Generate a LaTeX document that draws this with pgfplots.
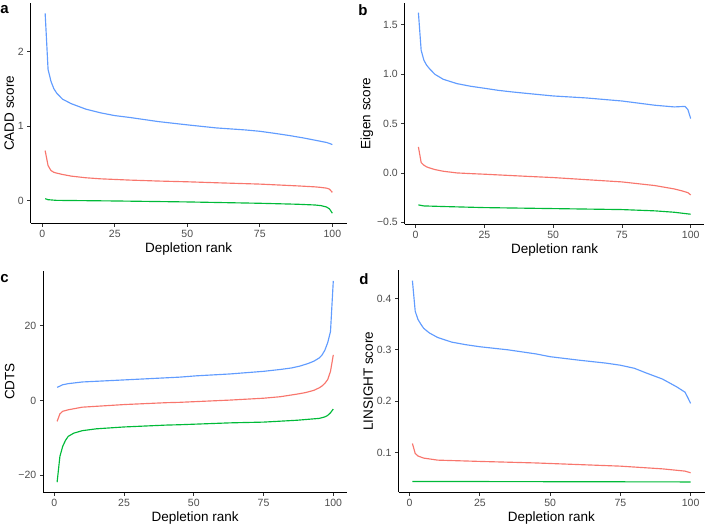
\documentclass[border=0pt]{standalone}
\usepackage{pgfplots}
\pgfplotsset{compat=1.18}
\usepackage{fontspec}
\setmainfont{Liberation Sans}
\definecolor{cred}{HTML}{F8766D}
\definecolor{cgreen}{HTML}{00BA38}
\definecolor{cblue}{HTML}{619CFF}
\definecolor{tickgray}{HTML}{4D4D4D}
\pgfplotsset{
  panel/.style={
    scale only axis,
    axis lines=left,
    axis line style={-, line width=0.9pt, black},
    tick style={line width=0.8pt, color=black!80},
    tick align=outside,
    major tick length=3.5pt,
    /pgf/number format/assume math mode=true,
    ticklabel style={font=\fontsize{10.5}{12}\selectfont, text=tickgray},
    label style={font=\fontsize{13.5}{15}\selectfont},
    xmin=-3.95, xmax=104.95,
    xtick={0,25,50,75,100},
    xticklabels={0,25,50,75,100},
    xlabel={Depletion rank},
    xlabel style={yshift=2pt},
    ylabel style={yshift=-3pt},
    every axis plot/.append style={line width=1.15pt, line join=round},
    clip=false,
  }
}
\begin{document}
\begin{tikzpicture}
\useasboundingbox (0,0) rectangle (707pt,528pt);
% ---------- panel a ----------
\begin{axis}[panel, at={(30.8pt,304.8pt)}, anchor=south west,
  width=315.9pt, height=219.8pt,
  ymin=-0.302, ymax=2.644,
  ytick={0,1,2}, yticklabels={0,1,2},
  ylabel={CADD score}]
\addplot[cgreen] coordinates {(1,0.027)(2,0.013)(5,0.004)(25,-0.004)(50,-0.017)(75,-0.035)(88,-0.048)(94,-0.058)(96,-0.066)(98,-0.085)(99,-0.11)(100,-0.168)};
\addplot[cred] coordinates {(1,0.671)(2,0.47)(3,0.404)(4,0.38)(5,0.369)(7,0.351)(10,0.329)(15,0.307)(20,0.293)(30,0.276)(40,0.263)(50,0.253)(60,0.24)(75,0.222)(88,0.198)(94,0.185)(96,0.178)(98,0.168)(99,0.155)(100,0.111)};
\addplot[cblue] coordinates {(1,2.51)(2,1.76)(3,1.60)(4,1.50)(5,1.44)(7,1.36)(10,1.30)(15,1.227)(20,1.178)(25,1.14)(30,1.116)(40,1.06)(50,1.016)(60,0.975)(70,0.948)(75,0.93)(80,0.903)(85,0.874)(90,0.841)(95,0.803)(98,0.78)(99,0.767)(100,0.752)};
\end{axis}
% ---------- panel b ----------
\begin{axis}[panel, at={(404.8pt,303.7pt)}, anchor=south west,
  width=299.5pt, height=221.7pt,
  ymin=-0.52, ymax=1.724,
  ytick={-0.5,0,0.5,1,1.5}, yticklabels={−0.5,0.0,0.5,1.0,1.5},
  ylabel={Eigen score}]
\addplot[cgreen] coordinates {(1,-0.324)(3,-0.334)(10,-0.34)(25,-0.351)(40,-0.357)(75,-0.371)(87,-0.384)(94,-0.398)(100,-0.418)};
\addplot[cred] coordinates {(1,0.263)(2,0.105)(3,0.078)(4,0.061)(5,0.051)(7,0.034)(10,0.017)(15,0.0)(20,-0.007)(25,-0.013)(40,-0.034)(50,-0.047)(75,-0.091)(87,-0.128)(94,-0.162)(97,-0.183)(99,-0.2)(100,-0.223)};
\addplot[cblue] coordinates {(1,1.622)(2,1.241)(3,1.14)(4,1.09)(5,1.056)(7,0.998)(10,0.948)(15,0.904)(20,0.877)(25,0.857)(30,0.836)(35,0.82)(40,0.806)(50,0.779)(62,0.759)(75,0.728)(87,0.685)(94,0.668)(97,0.672)(98,0.672)(99,0.64)(100,0.55)};
\end{axis}
% ---------- panel c ----------
\begin{axis}[panel, at={(43.3pt,35.7pt)}, anchor=south west,
  width=303.8pt, height=221.4pt,
  ymin=-24.6, ymax=34.7,
  ytick={-20,0,20}, yticklabels={−20,0,20},
  ylabel={CDTS}]
\addplot[cgreen] coordinates {(1,-21.9)(2,-15)(3,-12.3)(4,-10.7)(5,-9.6)(7,-8.75)(10,-8.1)(15,-7.6)(25,-7.1)(40,-6.6)(45,-6.5)(63,-6.0)(75,-5.8)(87,-5.3)(95,-4.8)(97,-4.4)(98,-4.0)(99,-3.3)(100,-2.3)};
\addplot[cred] coordinates {(1,-5.6)(2,-3.6)(3,-2.9)(5,-2.5)(10,-1.8)(25,-1.1)(40,-0.6)(45,-0.5)(63,0.1)(75,0.6)(81,1.0)(87,1.7)(90,2.1)(93,2.7)(95,3.4)(96,3.9)(97,4.6)(98,5.6)(99,7.8)(100,12.2)};
\addplot[cblue] coordinates {(1,3.5)(3,4.2)(5,4.5)(10,4.95)(25,5.5)(45,6.25)(51,6.6)(63,7.1)(75,7.8)(81,8.3)(85,8.7)(88,9.2)(91,9.9)(93,10.5)(95,11.4)(96,12.2)(97,13.5)(98,15.5)(99,18.5)(100,32)};
\end{axis}
% ---------- panel d ----------
\begin{axis}[panel, at={(398.5pt,36pt)}, anchor=south west,
  width=306pt, height=221.5pt,
  ymin=0.0229, ymax=0.4546,
  ytick={0.1,0.2,0.3,0.4}, yticklabels={0.1,0.2,0.3,0.4},
  ylabel={LINSIGHT score}]
\addplot[cgreen] coordinates {(1,0.0435)(50,0.043)(100,0.0425)};
\addplot[cred] coordinates {(1,0.1175)(2,0.098)(3,0.093)(5,0.089)(10,0.085)(25,0.0825)(45,0.0795)(75,0.0733)(90,0.068)(98,0.0636)(100,0.0604)};
\addplot[cblue] coordinates {(1,0.435)(2,0.375)(3,0.359)(4,0.35)(5,0.342)(7,0.333)(10,0.324)(15,0.315)(20,0.31)(25,0.306)(30,0.303)(35,0.300)(40,0.296)(45,0.292)(50,0.2866)(60,0.28)(70,0.274)(75,0.27)(80,0.264)(84,0.2553)(90,0.243)(95,0.228)(98,0.2175)(99,0.207)(100,0.1955)};
\end{axis}
% ---------- panel letters ----------
\node[font=\fontsize{15}{16}\bfseries\selectfont, inner sep=0pt] at (4.5pt,518pt) {a};
\node[font=\fontsize{15}{16}\bfseries\selectfont, inner sep=0pt] at (363pt,518pt) {b};
\node[font=\fontsize{15}{16}\bfseries\selectfont, inner sep=0pt] at (4.5pt,249pt) {c};
\node[font=\fontsize{15}{16}\bfseries\selectfont, inner sep=0pt] at (364pt,249pt) {d};
\end{tikzpicture}
\end{document}
